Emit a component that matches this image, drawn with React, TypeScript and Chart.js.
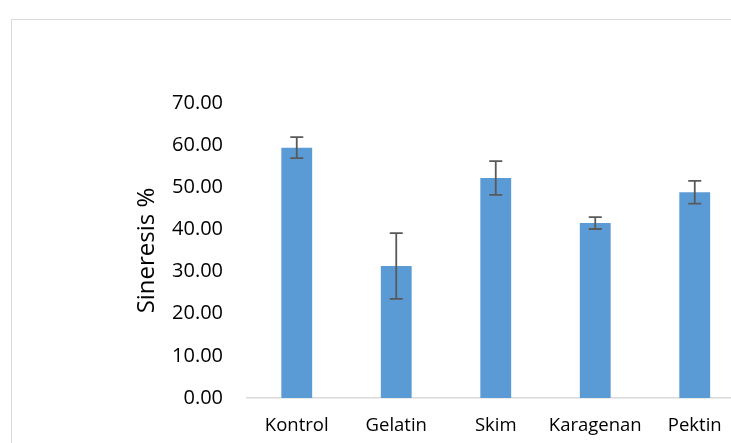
import React, { useEffect, useRef } from "react";
import { Chart, registerables } from "chart.js";

Chart.register(...registerables);

const categories: string[] = ["Kontrol", "Gelatin", "Skim", "Karagenan", "Pektin"];
const sineresisValues: number[] = [59.4, 31.3, 52.2, 41.5, 48.8];
const sineresisErrors: number[] = [2.5, 7.8, 4.0, 1.4, 2.7];
const yAxisTitle = "Sineresis %";

const FONT = "'Open Sans', 'Noto Sans', sans-serif";

const errorBarPlugin = {
  id: "errorBars",
  afterDatasetsDraw(chart: any) {
    const meta = chart.getDatasetMeta(0);
    const yScale = chart.scales.y;
    const ctx = chart.ctx;
    ctx.save();
    ctx.strokeStyle = "#595959";
    ctx.lineWidth = 1.8;
    meta.data.forEach((bar: any, i: number) => {
      const v = sineresisValues[i];
      const e = sineresisErrors[i];
      const x = bar.x;
      const yTop = yScale.getPixelForValue(v + e);
      const yBot = yScale.getPixelForValue(v - e);
      const half = 6.5;
      ctx.beginPath();
      ctx.moveTo(x, yTop);
      ctx.lineTo(x, yBot);
      ctx.moveTo(x - half, yTop);
      ctx.lineTo(x + half, yTop);
      ctx.moveTo(x - half, yBot);
      ctx.lineTo(x + half, yBot);
      ctx.stroke();
    });
    ctx.restore();
  },
};

export default function App() {
  const canvasRef = useRef<HTMLCanvasElement | null>(null);

  useEffect(() => {
    if (!canvasRef.current) return;
    const chart = new Chart(canvasRef.current, {
      type: "bar",
      data: {
        labels: categories,
        datasets: [
          {
            label: yAxisTitle,
            data: sineresisValues,
            backgroundColor: "#5b9bd5",
            borderWidth: 0,
            barPercentage: 0.31,
            categoryPercentage: 1,
          },
        ],
      },
      options: {
        responsive: false,
        maintainAspectRatio: false,
        animation: false,
        devicePixelRatio: 1,
        layout: { padding: { left: 0, right: 15.5, top: 103, bottom: 0 } },
        plugins: {
          legend: { display: false },
          tooltip: { enabled: false },
          title: { display: false },
        },
        scales: {
          x: {
            grid: { display: false, drawTicks: false },
            border: { display: true, color: "#d9d9d9", width: 1.5 },
            ticks: {
              color: "#000",
              font: { family: FONT, size: 18.5 },
              padding: 17,
              maxRotation: 0,
              autoSkip: false,
            },
            afterFit(scale: any) {
              scale.height = 45;
            },
          },
          y: {
            min: 0,
            max: 70,
            grid: { display: false, drawTicks: false },
            border: { display: false },
            ticks: {
              stepSize: 10,
              color: "#000",
              font: { family: FONT, size: 20 },
              padding: 24,
              callback: (v: any) => Number(v).toFixed(2),
            },
            title: {
              display: true,
              text: yAxisTitle,
              color: "#000",
              font: { family: FONT, size: 24 },
              padding: { top: 133, bottom: 0 },
            },
            afterFit(scale: any) {
              scale.width = 247;
            },
          },
        },
      },
      plugins: [errorBarPlugin],
    });
    return () => chart.destroy();
  }, []);

  return (
    <div
      style={{
        position: "fixed",
        left: 0,
        top: 0,
        width: 731,
        height: 443,
        overflow: "hidden",
        background: "#fff",
      }}
    >
      <div
        style={{
          position: "absolute",
          left: 11,
          top: 19,
          width: 800,
          height: 500,
          border: "1px solid #d9d9d9",
          boxSizing: "border-box",
        }}
      />
      <canvas
        ref={canvasRef}
        width={760}
        height={443}
        style={{ position: "absolute", left: 0, top: 0, width: 760, height: 443 }}
      />
    </div>
  );
}
